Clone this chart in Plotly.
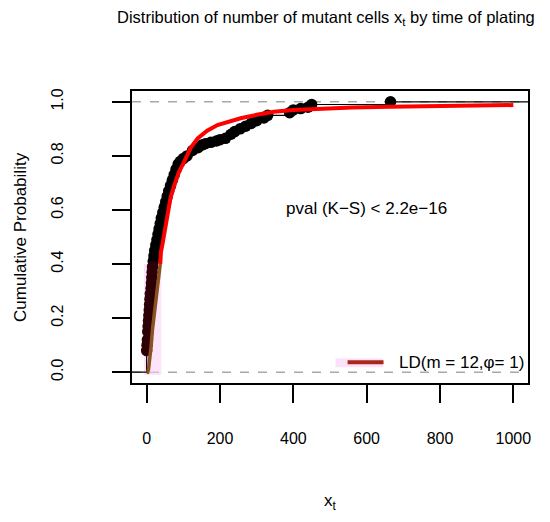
import plotly.graph_objects as go

# --- data ---
# knots of the empirical CDF (mutant counts x_t, cumulative probability)
ecdf_x = [0, 1, 2, 3, 4, 5, 6, 7, 8, 9, 10, 12, 13, 14, 15, 16, 18, 20, 22, 25,
          28, 31, 34, 37, 40, 44, 48, 52, 56, 60, 65, 70, 75, 80, 86, 92, 100,
          110, 125, 140, 150, 160, 175, 190, 200, 215, 230, 240, 255, 270, 285,
          300, 320, 330, 390, 400, 420, 440, 450, 665]
ecdf_p = [0.08, 0.10, 0.12, 0.15, 0.17, 0.19, 0.21, 0.23, 0.25, 0.27, 0.29, 0.31,
          0.33, 0.35, 0.37, 0.39, 0.41, 0.43, 0.45, 0.47, 0.49, 0.51, 0.53, 0.55,
          0.57, 0.59, 0.61, 0.63, 0.65, 0.67, 0.69, 0.71, 0.73, 0.75, 0.77, 0.78,
          0.79, 0.80, 0.82, 0.83, 0.84, 0.845, 0.85, 0.855, 0.86, 0.865, 0.88,
          0.89, 0.90, 0.91, 0.92, 0.93, 0.94, 0.95, 0.96, 0.97, 0.975, 0.98,
          0.99, 1.0]

# fitted Luria-Delbruck CDF (m = 12, phi = 1)
fit_x = [0, 3, 5, 8, 12, 16, 21, 26, 30, 37, 39, 44, 48, 57, 65, 75, 88, 102,
         120, 139, 165, 193, 225, 256, 300, 347, 400, 483, 560, 664, 800, 1000]
fit_p = [0.0, 0.0, 0.01, 0.04, 0.095, 0.16, 0.22, 0.29, 0.34, 0.40, 0.445, 0.48,
         0.515, 0.59, 0.645, 0.69, 0.74, 0.778, 0.83, 0.865, 0.893, 0.914, 0.928,
         0.939, 0.952, 0.963, 0.970, 0.976, 0.979, 0.982, 0.985, 0.988]

x_ticks = [0, 200, 400, 600, 800, 1000]
y_ticks = [0.0, 0.2, 0.4, 0.6, 0.8, 1.0]
y_tick_text = ["0.0", "0.2", "0.4", "0.6", "0.8", "1.0"]

split = 0.4  # below this the reference shows the overlay tint
x_range = [-40, 1040]
y_range = [-0.04, 1.04]

FONT = "Liberation Sans, Arial, sans-serif"

fig = go.Figure()

# faint pink tint in the lower left corner
fig.add_shape(type="rect", xref="x", yref="y", x0=-7, x1=40, y0=-0.01, y1=split,
              fillcolor="rgba(250,205,245,0.55)", line_width=0, layer="below")

# dashed reference lines at 0 and 1
for h in [0, 1]:
    fig.add_shape(type="line", xref="paper", yref="y", x0=0, x1=1, y0=h, y1=h,
                  line=dict(color="#a8a8a8", width=1.5, dash="dash"), layer="below")

# ecdf step line (extends to the plot edges like plot.ecdf)
fig.add_trace(go.Scatter(
    x=[x_range[0]] + ecdf_x + [x_range[1]],
    y=[0] + ecdf_p + [1],
    mode="lines", line=dict(color="black", width=1.2, shape="hv"),
    hoverinfo="skip", showlegend=False))

lo = [i for i, p in enumerate(ecdf_p) if p < split]
hi = [i for i, p in enumerate(ecdf_p) if p >= split]
fig.add_trace(go.Scatter(
    x=[ecdf_x[i] for i in hi], y=[ecdf_p[i] for i in hi],
    mode="markers", marker=dict(color="black", size=11.5, line_width=0),
    showlegend=False))
fig.add_trace(go.Scatter(
    x=[ecdf_x[i] for i in lo], y=[ecdf_p[i] for i in lo],
    mode="markers", marker=dict(color="#2c0006", size=11.5, line_width=0),
    showlegend=False))

# fitted curve: brown below the split, red above
fig.add_trace(go.Scatter(
    x=[x for x, p in zip(fit_x, fit_p) if p >= split],
    y=[p for p in fit_p if p >= split],
    mode="lines", line=dict(color="#ff0000", width=4), showlegend=False))
fig.add_trace(go.Scatter(
    x=[x for x, p in zip(fit_x, fit_p) if p <= split],
    y=[p for p in fit_p if p <= split],
    mode="lines", line=dict(color="#8a5220", width=3.5), showlegend=False))

# legend drawn by hand (bottom right, like R legend without box)
fig.add_shape(type="rect", xref="x", yref="y", x0=515, x1=645, y0=0.018, y1=0.052,
              fillcolor="rgba(250,205,245,0.6)", line_width=0, layer="below")
fig.add_shape(type="line", xref="x", yref="y", x0=548, x1=646, y0=0.037, y1=0.037,
              line=dict(color="#a8281a", width=4))
fig.add_annotation(x=683, y=0.037, xref="x", yref="y", text="LD(m = 12,φ= 1)",
                   showarrow=False, xanchor="left", yanchor="middle",
                   font=dict(family=FONT, size=17, color="black"))

fig.add_annotation(x=600, y=0.606, xref="x", yref="y", text="pval (K−S) < 2.2e−16",
                   showarrow=False, xanchor="center", yanchor="middle",
                   font=dict(family=FONT, size=17, color="black"))

# titles placed like base R graphics
fig.add_annotation(x=0.5, y=1, xref="paper", yref="paper", yshift=73, xshift=-4,
                   text="Distribution of number of mutant cells x<sub>t</sub> by time of plating",
                   showarrow=False, xanchor="center", yanchor="middle",
                   font=dict(family=FONT, size=16.5, color="black"))
fig.add_annotation(x=0.5, y=0, xref="paper", yref="paper", yshift=-119,
                   text="x<sub>t</sub>", showarrow=False, xanchor="center",
                   yanchor="middle", font=dict(family=FONT, size=17, color="black"))
fig.add_annotation(x=0, y=0.5, xref="paper", yref="paper", xshift=-112,
                   text="Cumulative Probability", textangle=-90, showarrow=False,
                   xanchor="center", yanchor="middle",
                   font=dict(family=FONT, size=17, color="black"))

# the page body adds 8px around the figure, so the figure is 16px smaller
fig.update_layout(
    width=534, height=506,
    margin=dict(l=124, r=14, t=83, b=131),
    paper_bgcolor="white", plot_bgcolor="white",
    font=dict(family=FONT, size=16, color="black"),
)
fig.update_xaxes(range=x_range, tickvals=x_ticks, showgrid=False, zeroline=False,
                 showline=True, mirror=True, linecolor="black", linewidth=2,
                 ticks="outside", ticklen=18, tickwidth=2, tickcolor="black",
                 ticklabelstandoff=22, tickfont=dict(size=16))
fig.update_yaxes(range=y_range, tickvals=y_ticks, ticktext=y_tick_text,
                 tickangle=-90, showgrid=False, zeroline=False,
                 showline=True, mirror=True, linecolor="black", linewidth=2,
                 ticks="outside", ticklen=18, tickwidth=2, tickcolor="black",
                 ticklabelstandoff=43, tickfont=dict(size=16))

fig.write_html("out.html")
